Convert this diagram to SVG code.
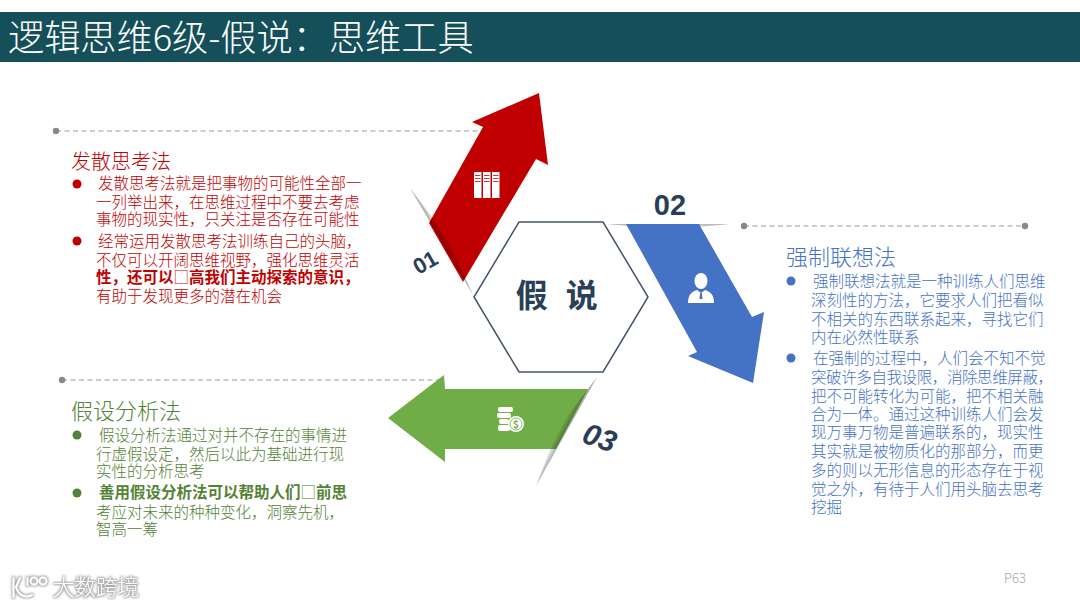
<svg xmlns="http://www.w3.org/2000/svg" width="1080" height="607" viewBox="0 0 1080 607">
<style>
text{font-family:"Noto Sans CJK SC","Noto Sans",sans-serif}
.b{font-family:"Liberation Sans","Noto Sans CJK SC",sans-serif;font-size:15.5px;font-weight:300}
.bb{font-weight:700}
.sq{font-family:"Noto Sans CJK SC",sans-serif;font-weight:300}
.r{fill:#c00000}.g{fill:#548235}.u{fill:#4472c4}
.h{font-size:22px;font-weight:300}
.num{font-family:"Liberation Sans",Arial,sans-serif;font-weight:700;fill:#2a3f57}
.dash{fill:none;stroke:#999;stroke-width:1.2;stroke-dasharray:5 3.5}
.dot{fill:#888}
.w{fill:#fff}
.logo{fill:none;stroke:#fff;stroke-width:2;stroke-linecap:round}
</style>
<defs>
<linearGradient id="sr" gradientUnits="userSpaceOnUse" x1="441" y1="241" x2="447" y2="237.500"><stop offset="0" stop-color="#000" stop-opacity=".34"/><stop offset="1" stop-color="#000" stop-opacity="0"/></linearGradient>
<linearGradient id="su" gradientUnits="userSpaceOnUse" x1="668" y1="224" x2="668" y2="229"><stop offset="0" stop-color="#000" stop-opacity=".3"/><stop offset="1" stop-color="#000" stop-opacity="0"/></linearGradient>
<linearGradient id="sg" gradientUnits="userSpaceOnUse" x1="566.500" y1="431.500" x2="560" y2="428"><stop offset="0" stop-color="#000" stop-opacity=".34"/><stop offset="1" stop-color="#000" stop-opacity="0"/></linearGradient>
<filter id="glow" x="-10%" y="-30%" width="120%" height="160%">
<feMorphology in="SourceAlpha" operator="dilate" radius="1" result="d"/>
<feGaussianBlur in="d" stdDeviation=".8" result="bl"/>
<feFlood flood-color="#a8a8a8"/>
<feComposite in2="bl" operator="in" result="s"/>
<feMerge><feMergeNode in="s"/><feMergeNode in="SourceGraphic"/></feMerge>
</filter>
</defs>
<rect width="1080" height="607" fill="#fff"/>
<g id="header">
<rect x="0" y="12" width="1080" height="50" fill="#15505a"/>
<text x="8" y="50.500" font-size="36.200" font-weight="300" fill="#fff">逻辑思维6级-假说：思维工具</text>
</g>
<g id="connectors">
<path class="dash" d="M56 131H484"/><circle class="dot" cx="56" cy="131" r="3.200"/>
<path class="dash" d="M744 226H1025"/><circle class="dot" cx="744" cy="226" r="3.200"/><circle class="dot" cx="1025" cy="226" r="3.200"/>
<path class="dash" d="M62 380H444"/><circle class="dot" cx="62" cy="380" r="3.200"/>
</g>
<g id="hexagon">
<polygon points="519,222 603,222 648,297 603,372 519,372 474,297" fill="#fff" stroke="#44546a" stroke-width="1.500"/>
<text x="559.500" y="306.500" text-anchor="middle" font-size="32" font-weight="700" letter-spacing="5.400" fill="#2b3f57">假 说</text>
</g>
<g id="arrow-01">
<polygon points="539,93 548,165 536,159 463,282 429,223 483,127 472,122" fill="#c00000"/>
<polygon points="410,188 447.500,238 473,295" fill="url(#sr)"/>
<rect x="474" y="172" width="7.500" height="26" class="w"/><rect x="483" y="172" width="7.500" height="26" class="w"/><rect x="492" y="172" width="7.500" height="26" class="w"/>
<path d="M475 175.500h5.500M475 178.500h5.500M475 181.500h5.500M484 175.500h5.500M484 178.500h5.500M484 181.500h5.500M493 175.500h5.500M493 178.500h5.500M493 181.500h5.500" stroke="#c00000" stroke-width=".8"/>
<text class="num" font-size="22" transform="translate(425 262) rotate(-30)" text-anchor="middle" y="8">01</text>
</g>
<g id="arrow-02">
<polygon points="607,224 668,230 730,224" fill="url(#su)"/>
<polygon points="626,224 699,224 752,317 764,312 753,383 688,356 697,352" fill="#4472c4"/>
<ellipse cx="701" cy="281" rx="6.500" ry="8" class="w"/>
<path d="M688 303C688 295 691 292 697 290L701 293L705 290C711 292 714 295 714 303Z" class="w"/>
<path d="M700.200 293h1.600l.8 6h-3.200z" fill="#4472c4"/>
<text class="num" font-size="29" x="670" y="215" text-anchor="middle">02</text>
</g>
<g id="arrow-03">
<polygon points="388,418 444,375 445,389 588,389 556,449 445,449 445,462" fill="#70ad47"/>
<polygon points="597,377 559,427 536,486" fill="url(#sg)"/>
<rect x="498" y="407" width="15" height="5" rx="2" class="w"/><rect x="497" y="413" width="14" height="5" rx="2" class="w"/><rect x="499" y="419" width="10" height="5" rx="2" class="w"/><rect x="498" y="425" width="12" height="6" rx="2" class="w"/>
<circle cx="516" cy="424" r="8" class="w"/><circle cx="516" cy="424" r="6" fill="none" stroke="#70ad47" stroke-width=".8"/>
<text x="516" y="428" font-size="10" font-weight="700" text-anchor="middle" fill="#70ad47">$</text>
<text class="num" font-size="30" font-style="italic" transform="translate(600 437) rotate(20)" text-anchor="middle" y="11">03</text>
</g>
<g id="method-1">
<text x="71" y="168.500" font-size="20" font-weight="300" class="r">发散思考法</text>
<circle cx="77" cy="184" r="4.500" class="r"/><circle cx="77" cy="241" r="4.500" class="r"/>
<text class="b r"><tspan x="98" y="189">发散思考法就是把事物的可能性全部一</tspan><tspan x="96" y="208">一列举出来，在思维过程中不要去考虑</tspan><tspan x="96" y="225">事物的现实性，只关注是否存在可能性</tspan><tspan x="98" y="247">经常运用发散思考法训练自己的头脑，</tspan><tspan x="96" y="266">不仅可以开阔思维视野，强化思维灵活</tspan><tspan x="96" y="283" class="bb">性，还可以<tspan class="sq">□</tspan>高我们主动探索的意识，</tspan><tspan x="96" y="302">有助于发现更多的潜在机会</tspan></text>
</g>
<g id="method-2">
<text x="786" y="265" class="h u">强制联想法</text>
<circle cx="791" cy="281" r="4.500" class="u"/><circle cx="791" cy="358" r="4.500" class="u"/>
<text class="b u"><tspan x="813" y="287">强制联想法就是一种训练人们思维</tspan><tspan x="811" y="306">深刻性的方法，它要求人们把看似</tspan><tspan x="811" y="325">不相关的东西联系起来，寻找它们</tspan><tspan x="811" y="343">内在必然性联系</tspan><tspan x="813" y="364">在强制的过程中，人们会不知不觉</tspan><tspan x="811" y="383" letter-spacing="-.4">突破许多自我设限，消除思维屏蔽，</tspan><tspan x="811" y="402">把不可能转化为可能，把不相关融</tspan><tspan x="811" y="420">合为一体。通过这种训练人们会发</tspan><tspan x="811" y="438">现万事万物是普遍联系的，现实性</tspan><tspan x="811" y="457">其实就是被物质化的那部分，而更</tspan><tspan x="811" y="476">多的则以无形信息的形态存在于视</tspan><tspan x="811" y="495">觉之外，有待于人们用头脑去思考</tspan><tspan x="811" y="513">挖掘</tspan></text>
</g>
<g id="method-3">
<text x="71" y="419" class="h g">假设分析法</text>
<circle cx="77" cy="435" r="4.500" class="g"/><circle cx="77" cy="493" r="4.500" class="g"/>
<text class="b g"><tspan x="99" y="441">假设分析法通过对并不存在的事情进</tspan><tspan x="96" y="460">行虚假设定，然后以此为基础进行现</tspan><tspan x="96" y="477">实性的分析思考</tspan><tspan x="99" y="498" class="bb">善用假设分析法可以帮助人们<tspan class="sq">□</tspan>前思</tspan><tspan x="96" y="518">考应对未来的种种变化，洞察先机，</tspan><tspan x="96" y="535">智高一筹</tspan></text>
</g>
<g id="watermark" filter="url(#glow)">
<path class="logo" d="M13.500 578V597M20 578L16 587C18 594 24 599 32 595M27.500 578v7"/>
<circle class="logo" cx="34" cy="581" r="3.500"/><circle class="logo" cx="43" cy="581" r="3.500"/>
<text x="53" y="595" font-size="21.500" font-weight="300" fill="#fff">大数跨境</text>
</g>
<g id="page"><text x="1004" y="583" font-size="13" fill="#a6a6a6" font-weight="300">P63</text></g>
</svg>
